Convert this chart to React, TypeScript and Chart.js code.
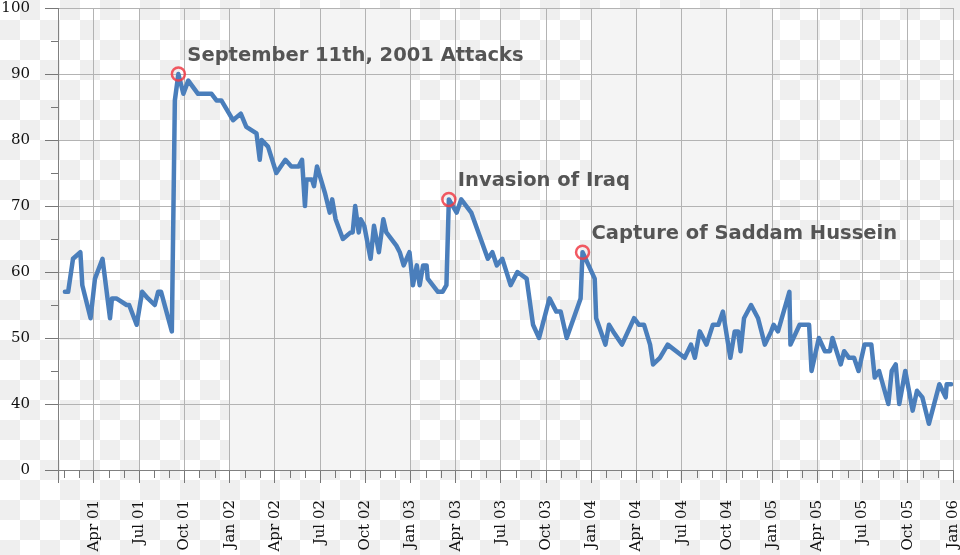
import React, { useEffect, useRef } from 'react';
import { Chart, registerables } from 'chart.js';

Chart.register(...registerables);

// ---- data ----
const pollDates = [
  '2001-02-03', '2001-02-09', '2001-02-18', '2001-03-04', '2001-03-08', '2001-03-25', '2001-04-03', '2001-04-18',
  '2001-05-03', '2001-05-07', '2001-05-16', '2001-06-06', '2001-06-11', '2001-06-26', '2001-07-07', '2001-07-19',
  '2001-08-02', '2001-08-09', '2001-08-15', '2001-09-06', '2001-09-12', '2001-09-19', '2001-09-29', '2001-10-09',
  '2001-10-29', '2001-11-25', '2001-12-05', '2001-12-15',
  '2002-01-08', '2002-01-24', '2002-02-04', '2002-02-23', '2002-03-01', '2002-03-05', '2002-03-18', '2002-04-04',
  '2002-04-22', '2002-05-04', '2002-05-19', '2002-05-26', '2002-06-01', '2002-06-04', '2002-06-15', '2002-06-19',
  '2002-06-25', '2002-07-11', '2002-07-21', '2002-07-26', '2002-08-02', '2002-08-17', '2002-09-02', '2002-09-06',
  '2002-09-11', '2002-09-18', '2002-09-22', '2002-09-29', '2002-10-12', '2002-10-19', '2002-10-29', '2002-11-07',
  '2002-11-13', '2002-12-03', '2002-12-10', '2002-12-18', '2002-12-30',
  '2003-01-06', '2003-01-14', '2003-01-20', '2003-01-27', '2003-02-03', '2003-02-05', '2003-02-24', '2003-03-05',
  '2003-03-13', '2003-03-18', '2003-04-03', '2003-04-12', '2003-05-02', '2003-06-05', '2003-06-14', '2003-06-23',
  '2003-07-04', '2003-07-21', '2003-08-04', '2003-08-23', '2003-09-05', '2003-09-17', '2003-10-08', '2003-10-22',
  '2003-10-31', '2003-11-12', '2003-12-10', '2003-12-14',
  '2004-01-08', '2004-01-11', '2004-01-30', '2004-02-06', '2004-02-14', '2004-03-02', '2004-03-27', '2004-04-06',
  '2004-04-16', '2004-04-28', '2004-05-04', '2004-05-18', '2004-06-03', '2004-07-07', '2004-07-20', '2004-07-28',
  '2004-08-07', '2004-08-21', '2004-09-03', '2004-09-14', '2004-09-23', '2004-10-08', '2004-10-17', '2004-10-24',
  '2004-10-29', '2004-11-05', '2004-11-19', '2004-12-03', '2004-12-17', '2004-12-30',
  '2005-01-04', '2005-01-13', '2005-02-05', '2005-02-07', '2005-02-24', '2005-03-15', '2005-03-20', '2005-04-04',
  '2005-04-16', '2005-04-26', '2005-05-01', '2005-05-18', '2005-05-25', '2005-06-04', '2005-06-14', '2005-06-23',
  '2005-07-05', '2005-07-19', '2005-07-26', '2005-08-04', '2005-08-23', '2005-08-30', '2005-09-07', '2005-09-14',
  '2005-09-26', '2005-10-11', '2005-10-20', '2005-10-31', '2005-11-13', '2005-12-04', '2005-12-17', '2005-12-19',
  '2005-12-28',
];

const approval = [
  57, 57, 62, 63, 58, 53, 59, 62,
  53, 56, 56, 55, 55, 52, 57, 56,
  55, 57, 57, 51, 86, 90, 87, 89,
  87, 87, 86, 86,
  83, 84, 82, 81, 77, 80, 79, 75,
  77, 76, 76, 77, 70, 74, 74, 73,
  76, 72, 69, 71, 68, 65, 66, 66,
  70, 66, 68, 67, 62, 67, 63, 68,
  66, 64, 63, 61, 63,
  58, 61, 58, 61, 61, 59, 57, 57,
  58, 71, 69, 71, 69, 62, 63, 61,
  62, 58, 60, 59, 52, 50, 56, 54,
  54, 50, 56, 63,
  59, 53, 49, 52, 51, 49, 53, 52,
  52, 49, 46, 47, 49, 47, 49, 47,
  51, 49, 52, 52, 54, 47, 51, 51,
  48, 53, 55, 53, 49, 51,
  52, 51, 57, 49, 52, 52, 45, 50,
  48, 48, 50, 46, 48, 47, 47, 45,
  49, 49, 44, 45, 40, 45, 46, 40,
  45, 39, 42, 41, 37, 43, 41, 43,
  43,
];

const axisStart = '2001-01-20';
const axisEnd = '2006-01-01';

const tickDates = [
  '2001-04-01', '2001-07-01', '2001-10-01', '2002-01-01', '2002-04-01', '2002-07-01', '2002-10-01',
  '2003-01-01', '2003-04-01', '2003-07-01', '2003-10-01', '2004-01-01', '2004-04-01', '2004-07-01',
  '2004-10-01', '2005-01-01', '2005-04-01', '2005-07-01', '2005-10-01', '2006-01-01',
];
const tickLabels = [
  'Apr 01', 'Jul 01', 'Oct 01', 'Jan 02', 'Apr 02', 'Jul 02', 'Oct 02',
  'Jan 03', 'Apr 03', 'Jul 03', 'Oct 03', 'Jan 04', 'Apr 04', 'Jul 04',
  'Oct 04', 'Jan 05', 'Apr 05', 'Jul 05', 'Oct 05', 'Jan 06',
];

const yTicks = [30, 40, 50, 60, 70, 80, 90, 100];
const yTickLabels = ['0', '40', '50', '60', '70', '80', '90', '100'];
const yMinorTicks = [45, 55, 65, 75, 85, 95];

const shadedStarts = ['2002-01-01', '2004-01-01'];
const shadedEnds = ['2003-01-01', '2005-01-01'];

const eventDates = ['2001-09-19', '2003-03-18', '2003-12-14'];
const eventValues = [90, 71, 63];
const eventLabels = ['September 11th, 2001 Attacks', 'Invasion of Iraq', 'Capture of Saddam Hussein'];

// months since Jan 2001
function toMonths(s: string): number {
  const [y, m, d] = s.split('-').map(Number);
  const dim = new Date(y, m, 0).getDate();
  return (y - 2001) * 12 + (m - 1) + (d - 1) / dim;
}

const xMin = toMonths(axisStart);
const xMax = toMonths(axisEnd);

const bandsPlugin = {
  id: 'bands',
  beforeDraw(chart: any) {
    const { ctx, chartArea, scales } = chart;
    ctx.save();
    ctx.fillStyle = '#f4f4f4';
    shadedStarts.forEach((s, i) => {
      const x0 = scales.x.getPixelForValue(toMonths(s));
      const x1 = scales.x.getPixelForValue(toMonths(shadedEnds[i]));
      ctx.fillRect(x0, chartArea.top, x1 - x0, chartArea.bottom - chartArea.top);
    });
    ctx.restore();
  },
};

const minorTicksPlugin = {
  id: 'minorTicks',
  afterDraw(chart: any) {
    const { ctx, chartArea, scales } = chart;
    ctx.save();
    ctx.strokeStyle = '#777';
    ctx.lineWidth = 1;
    ctx.beginPath();
    for (let m = Math.ceil(xMin); m < xMax; m++) {
      if (m % 3 === 0) continue;
      const x = Math.round(scales.x.getPixelForValue(m)) + 0.5;
      ctx.moveTo(x, chartArea.bottom);
      ctx.lineTo(x, chartArea.bottom + 8);
    }
    yMinorTicks.forEach((v) => {
      const y = Math.round(scales.y.getPixelForValue(v)) + 0.5;
      ctx.moveTo(chartArea.left - 7, y);
      ctx.lineTo(chartArea.left, y);
    });
    ctx.stroke();
    ctx.restore();
  },
};

const eventsPlugin = {
  id: 'events',
  afterDatasetsDraw(chart: any) {
    const { ctx, scales } = chart;
    ctx.save();
    eventDates.forEach((d, i) => {
      const x = scales.x.getPixelForValue(toMonths(d));
      const y = scales.y.getPixelForValue(eventValues[i]);
      ctx.beginPath();
      ctx.arc(x, y, 6.5, 0, Math.PI * 2);
      ctx.strokeStyle = 'rgba(240,60,70,0.85)';
      ctx.lineWidth = 2.5;
      ctx.stroke();
      ctx.fillStyle = '#555555';
      ctx.font = 'bold 19.5px "DejaVu Sans"';
      ctx.textAlign = 'left';
      ctx.textBaseline = 'alphabetic';
      ctx.fillText(eventLabels[i], x + 9, y - 13);
    });
    ctx.restore();
  },
};

export default function App() {
  const canvasRef = useRef<HTMLCanvasElement | null>(null);

  useEffect(() => {
    if (!canvasRef.current) return;
    const points = pollDates.map((d, i) => ({ x: toMonths(d), y: approval[i] }));
    const serif = { family: '"DejaVu Serif"', size: 15 };
    const chart = new Chart(canvasRef.current, {
      type: 'line',
      data: {
        datasets: [
          {
            data: points,
            borderColor: '#4a7ebb',
            borderWidth: 4.5,
            pointRadius: 0,
            tension: 0,
            borderJoinStyle: 'round',
            borderCapStyle: 'round',
            fill: false,
          },
        ],
      },
      options: {
        animation: false,
        responsive: false,
        events: [],
        layout: { padding: { top: 8, right: 7, left: 0, bottom: 0 } },
        plugins: { legend: { display: false }, tooltip: { enabled: false }, title: { display: false } },
        scales: {
          x: {
            type: 'linear',
            min: xMin,
            max: xMax,
            afterBuildTicks: (s: any) => {
              s.ticks = [xMin, ...tickDates.map(toMonths)].map((v) => ({ value: v }));
            },
            afterFit: (s: any) => {
              s.height = 85;
              s.paddingLeft = 0;
              s.paddingRight = 0;
            },
            grid: { color: '#b3b3b3', lineWidth: 1, tickLength: 13, tickColor: '#777', drawTicks: true },
            border: { color: '#808080', width: 1 },
            ticks: {
              autoSkip: false,
              maxRotation: 90,
              minRotation: 90,
              padding: 17,
              color: '#111',
              font: serif,
              callback: (_v: any, i: number) => (i === 0 ? '' : tickLabels[i - 1]),
            },
          },
          y: {
            type: 'linear',
            min: 30,
            max: 100,
            afterBuildTicks: (s: any) => {
              s.ticks = yTicks.map((v) => ({ value: v }));
            },
            afterFit: (s: any) => {
              s.width = 58;
              s.paddingTop = 0;
              s.paddingBottom = 0;
            },
            grid: { color: '#b3b3b3', lineWidth: 1, tickLength: 13, tickColor: '#777', drawTicks: true },
            border: { color: '#808080', width: 1 },
            ticks: {
              padding: 15,
              color: '#111',
              font: serif,
              callback: (_v: any, i: number) => yTickLabels[i],
            },
          },
        },
      },
      plugins: [bandsPlugin, minorTicksPlugin, eventsPlugin],
    } as any);
    return () => chart.destroy();
  }, []);

  return (
    <div
      style={{
        position: 'fixed',
        left: 0,
        top: 0,
        width: 960,
        height: 555,
        background: 'repeating-conic-gradient(#efefef 0% 25%, #ffffff 0% 50%) 0 0 / 40px 40px',
      }}
    >
      <canvas ref={canvasRef} width={960} height={555} style={{ display: 'block' }} />
    </div>
  );
}
